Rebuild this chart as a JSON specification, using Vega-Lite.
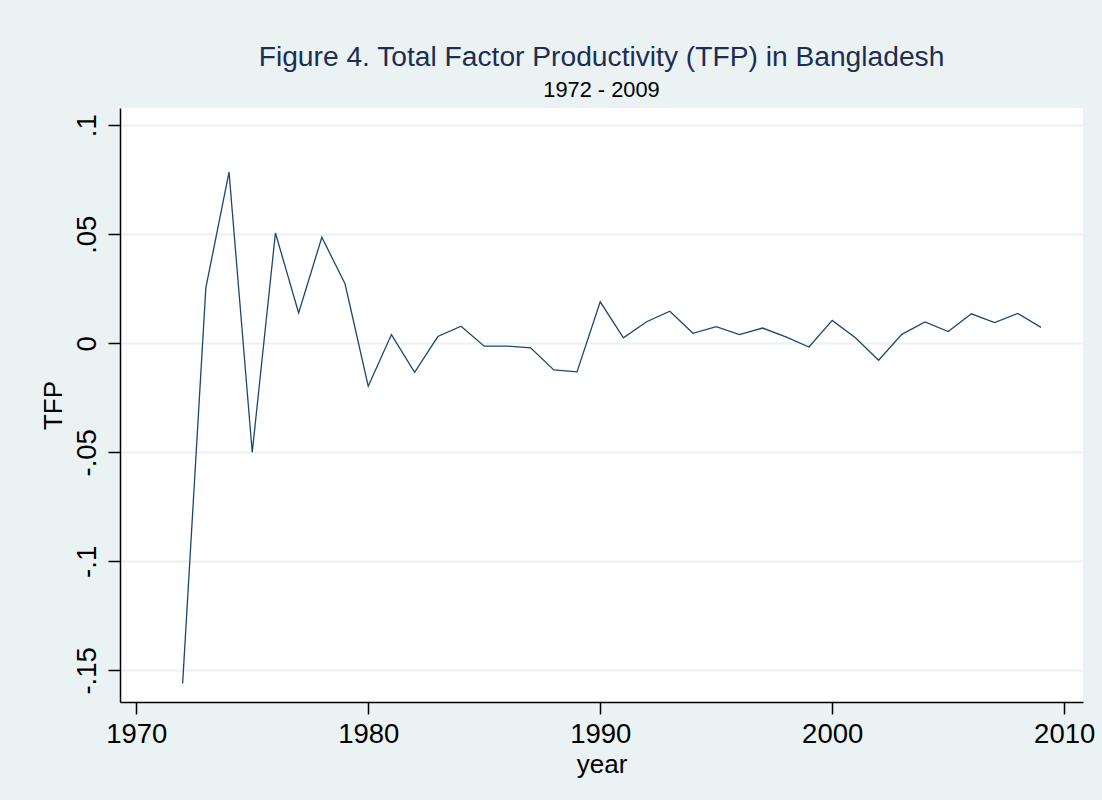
{
  "$schema": "https://vega.github.io/schema/vega-lite/v6.json",
  "width": 963,
  "height": 594,
  "autosize": {"type": "none"},
  "padding": {"left": 120, "top": 108, "right": 19, "bottom": 98},
  "background": "#EAF2F3",
  "title": {
    "text": "Figure 4. Total Factor Productivity (TFP) in Bangladesh",
    "subtitle": "1972 - 2009",
    "anchor": "middle",
    "font": "Liberation Sans",
    "fontSize": 28.2,
    "fontWeight": "normal",
    "color": "#1E2D53",
    "subtitleFont": "Liberation Sans",
    "subtitleFontSize": 21.8,
    "subtitleColor": "#000000",
    "subtitlePadding": 8,
    "offset": 5
  },
  "config": {
    "view": {"fill": "#FFFFFF", "stroke": null},
    "axis": {
      "labelFont": "Liberation Sans",
      "titleFont": "Liberation Sans",
      "labelFontSize": 27.5,
      "titleFontSize": 26,
      "titleFontWeight": "normal",
      "labelColor": "#000000",
      "titleColor": "#000000",
      "domainColor": "#000000",
      "domainWidth": 1.5,
      "tickColor": "#000000",
      "tickWidth": 1.5,
      "tickSize": 12
    }
  },
  "data": {
    "values": [
      {"year": 1972, "TFP": -0.156},
      {"year": 1973, "TFP": 0.0254},
      {"year": 1974, "TFP": 0.0785},
      {"year": 1975, "TFP": -0.0500},
      {"year": 1976, "TFP": 0.0506},
      {"year": 1977, "TFP": 0.0139},
      {"year": 1978, "TFP": 0.0486},
      {"year": 1979, "TFP": 0.0273},
      {"year": 1980, "TFP": -0.0197},
      {"year": 1981, "TFP": 0.0040},
      {"year": 1982, "TFP": -0.0133},
      {"year": 1983, "TFP": 0.0031},
      {"year": 1984, "TFP": 0.0078},
      {"year": 1985, "TFP": -0.0013},
      {"year": 1986, "TFP": -0.0013},
      {"year": 1987, "TFP": -0.0021},
      {"year": 1988, "TFP": -0.0122},
      {"year": 1989, "TFP": -0.0131},
      {"year": 1990, "TFP": 0.0190},
      {"year": 1991, "TFP": 0.0025},
      {"year": 1992, "TFP": 0.0099},
      {"year": 1993, "TFP": 0.0147},
      {"year": 1994, "TFP": 0.0046},
      {"year": 1995, "TFP": 0.0076},
      {"year": 1996, "TFP": 0.0040},
      {"year": 1997, "TFP": 0.0070},
      {"year": 1998, "TFP": 0.0029},
      {"year": 1999, "TFP": -0.0017},
      {"year": 2000, "TFP": 0.0105},
      {"year": 2001, "TFP": 0.0025},
      {"year": 2002, "TFP": -0.0078},
      {"year": 2003, "TFP": 0.0041},
      {"year": 2004, "TFP": 0.0098},
      {"year": 2005, "TFP": 0.0054},
      {"year": 2006, "TFP": 0.0135},
      {"year": 2007, "TFP": 0.0095},
      {"year": 2008, "TFP": 0.0137},
      {"year": 2009, "TFP": 0.0073}
    ]
  },
  "mark": {"type": "line", "color": "#1A476F", "strokeWidth": 1.3},
  "encoding": {
    "x": {
      "field": "year",
      "type": "quantitative",
      "scale": {"domain": [1969.3, 2010.81], "nice": false, "zero": false},
      "axis": {
        "values": [1970, 1980, 1990, 2000, 2010],
        "format": "d",
        "grid": false,
        "title": "year",
        "labelPadding": 6,
        "titlePadding": 4
      }
    },
    "y": {
      "field": "TFP",
      "type": "quantitative",
      "scale": {"domain": [-0.1645, 0.1079], "nice": false, "zero": false},
      "axis": {
        "values": [-0.15, -0.1, -0.05, 0, 0.05, 0.1],
        "labelExpr": "(datum.value < 0 ? '-' : '') + replace(format(abs(datum.value), '~g'), '0.', '.')",
        "labelAngle": -90,
        "labelAlign": "center",
        "labelBaseline": "bottom",
        "labelPadding": 7,
        "grid": true,
        "gridColor": "#EAF2F3",
        "gridWidth": 2,
        "title": "TFP",
        "titlePadding": 7
      }
    }
  }
}
